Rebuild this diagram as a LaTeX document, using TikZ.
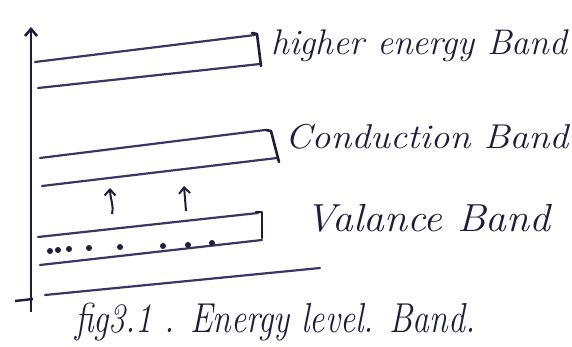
\documentclass[tikz,border=0pt]{standalone}
\usepackage{fontspec}
\usetikzlibrary{arrows.meta}
\definecolor{ink}{HTML}{3B3566}
\definecolor{ink2}{HTML}{1E1E3C}
\tikzset{
  band/.style={draw=ink, line width=2.2pt, line cap=round},
  brk/.style={draw=ink2, line width=2.6pt, line cap=round, line join=round},
  lbl/.style={text=ink2, anchor=west, inner sep=0pt, font=\fontsize{26}{30}\selectfont\itshape},
  dot/.style={fill=ink2, circle, inner sep=0pt, minimum size=6pt},
  up/.style={draw=ink2, line width=2pt, -{Straight Barb[length=6pt,width=11pt]}}
}
\begin{document}
\begin{tikzpicture}[x=1pt,y=-1pt]
\useasboundingbox (0,0) rectangle (572,347);
% axis
\draw[draw=ink2, line width=2.6pt, -{Straight Barb[length=7pt,width=12pt]}] (31,312) -- (31,27);
\draw[draw=ink2, line width=2.4pt] (15,301) -- (33,299);
% higher energy band
\draw[band] (35,62) -- (255,35);
\draw[band] (38,88) -- (260,64);
\draw[brk] (252,33) -- (257,34) -- (261,66);
% conduction band
\draw[band] (40,158) -- (265,130);
\draw[band] (42,186) -- (277,158);
\draw[brk] (266,130) -- (271,131) -- (279,162);
% valence band
\draw[band] (38,237) -- (258,213);
\draw[band] (40,265) -- (262,240);
\draw[brk] (256,212) -- (262,212) -- (262,238);
% lower line
\draw[band] (45,295) -- (320,268);
% electrons
\foreach \x/\y in {50/251,58/250,69/249,89/248,120/247,163/246,188/245,212/243}
  \node[dot] at (\x,\y) {};
% excitation arrows
\draw[up] (112,214) .. controls (114,205) and (110,198) .. (110,188);
\draw[up] (186,211) -- (184,186);
% labels
\node[lbl] (he) at (271,46) {\resizebox*{296pt}{32pt}{higher energy Band}};
\node[lbl] (cb) at (285,137) {\resizebox*{283pt}{25pt}{Conduction Band}};
\node[lbl] (vb) at (305,218) {\resizebox*{245pt}{28pt}{Valance Band}};
\node[lbl] (cap) at (75,322) {\resizebox*{400pt}{38pt}{fig3.1 . Energy level. Band.}};
\end{tikzpicture}
\end{document}
